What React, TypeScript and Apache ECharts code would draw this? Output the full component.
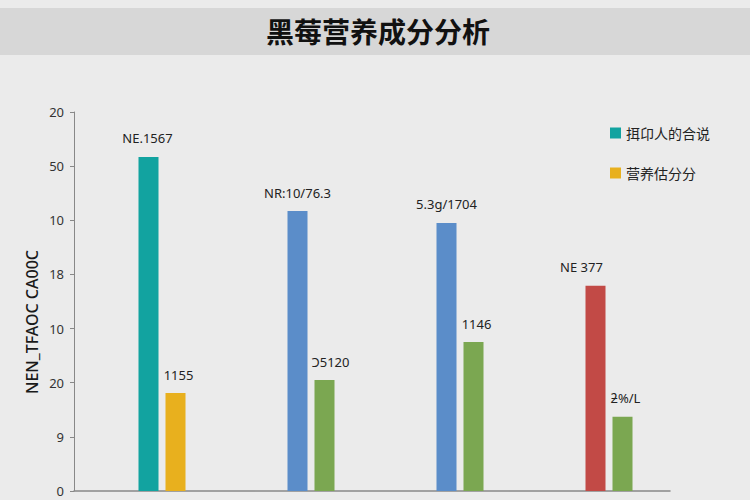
import React, { useEffect, useRef } from "react";
import * as echarts from "echarts";

const categories = ["组1", "组2", "组3", "组4"];
const tickLabels = ["0", "9", "20", "10", "18", "10", "50", "20"];
const seriesNames = ["挕卬人的合说", "营养估分分"];
const firstValues = [6.17, 5.17, 4.95, 3.79];
const secondValues = [1.81, 2.05, 2.75, 1.37];
const firstColors = ["#12a3a0", "#5b8dc9", "#5b8dc9", "#c24a46"];
const secondColors = ["#e8b01e", "#7ba751", "#7ba751", "#7ba751"];
const firstLabels = ["NE.1567", "NR:10/76.3", "5.3g/1704", "NE 377"];
const secondLabels = ["1155", "Ↄ5120", "1146", "ƻ%/L"];
const firstLabelOffsets = [-1, 0, 0, -14];
const secondLabelOffsets = [3, 6, 3, 3];
const yAxisTitle = "NEN_TFAOC CA00C";
const chartTitle = "黑莓营养成分分析";

const FONT = "'Noto Sans', 'Noto Sans CJK SC', sans-serif";

export default function App() {
  const ref = useRef<HTMLDivElement>(null);
  useEffect(() => {
    document.body.style.margin = "0";
    const chart = echarts.init(ref.current!, null, { renderer: "svg" });
    chart.setOption({
      animation: false,
      backgroundColor: "#ebebeb",
      textStyle: { fontFamily: FONT },
      graphic: [
        {
          type: "rect",
          shape: { x: 0, y: 8, width: 750, height: 47 },
          style: { fill: "#d7d7d7" },
          z: 0,
        },
        {
          type: "text",
          x: 378,
          y: 31,
          style: {
            text: chartTitle,
            fontSize: 28,
            fontWeight: "bold",
            fill: "#111",
            fontFamily: "'Noto Sans CJK SC', sans-serif",
            align: "center",
            verticalAlign: "middle",
          },
          z: 10,
        },
        {
          type: "text",
          x: 32,
          y: 322,
          rotation: Math.PI / 2,
          style: {
            text: yAxisTitle,
            fontSize: 16,
            fontWeight: 500,
            fill: "#1a1a1a",
            fontFamily: FONT,
            align: "center",
            verticalAlign: "middle",
          },
        },
      ],
      legend: {
        orient: "vertical",
        left: 605,
        top: 121,
        itemWidth: 11,
        itemHeight: 11,
        itemGap: 26,
        icon: "rect",
        data: seriesNames,
        textStyle: { fontSize: 14, color: "#222", fontFamily: "'Noto Sans CJK SC', sans-serif" },
      },
      grid: { left: 74, right: 80, top: 112, bottom: 9, containLabel: false },
      xAxis: {
        type: "category",
        data: categories,
        axisLine: { lineStyle: { color: "#888", width: 1.5 } },
        axisTick: { show: false },
        axisLabel: { show: false },
      },
      yAxis: {
        type: "value",
        min: 0,
        max: 7,
        interval: 1,
        axisLine: { show: true, lineStyle: { color: "#888", width: 1 } },
        axisTick: { show: true, length: 4, lineStyle: { color: "#888" } },
        splitLine: { show: false },
        axisLabel: {
          fontSize: 13,
          color: "#333",
          margin: 10,
          formatter: (v: number) => tickLabels[Math.round(v)] ?? "",
        },
      },
      series: [
        {
          type: "bar",
          data: categories.map(() => null),
          barWidth: 20,
          barGap: "35%",
          silent: true,
        },
        {
          type: "bar",
          name: seriesNames[0],
          barWidth: 20,
          barGap: "35%",
          itemStyle: { color: firstColors[0] },
          data: firstValues.map((v, i) => ({
            value: v,
            itemStyle: { color: firstColors[i] },
            label: {
              show: true,
              position: "top",
              distance: 12,
              offset: [firstLabelOffsets[i], 0],
              formatter: firstLabels[i],
              fontSize: 13,
              color: "#222",
            },
          })),
        },
        {
          type: "bar",
          name: seriesNames[1],
          barWidth: 20,
          barGap: "35%",
          itemStyle: { color: secondColors[0] },
          data: secondValues.map((v, i) => ({
            value: v,
            itemStyle: { color: secondColors[i] },
            label: {
              show: true,
              position: "top",
              distance: 12,
              offset: [secondLabelOffsets[i], 0],
              formatter: secondLabels[i],
              fontSize: 13,
              color: "#222",
            },
          })),
        },
      ],
    });
    return () => chart.dispose();
  }, []);
  return <div ref={ref} style={{ width: 750, height: 500 }} />;
}
